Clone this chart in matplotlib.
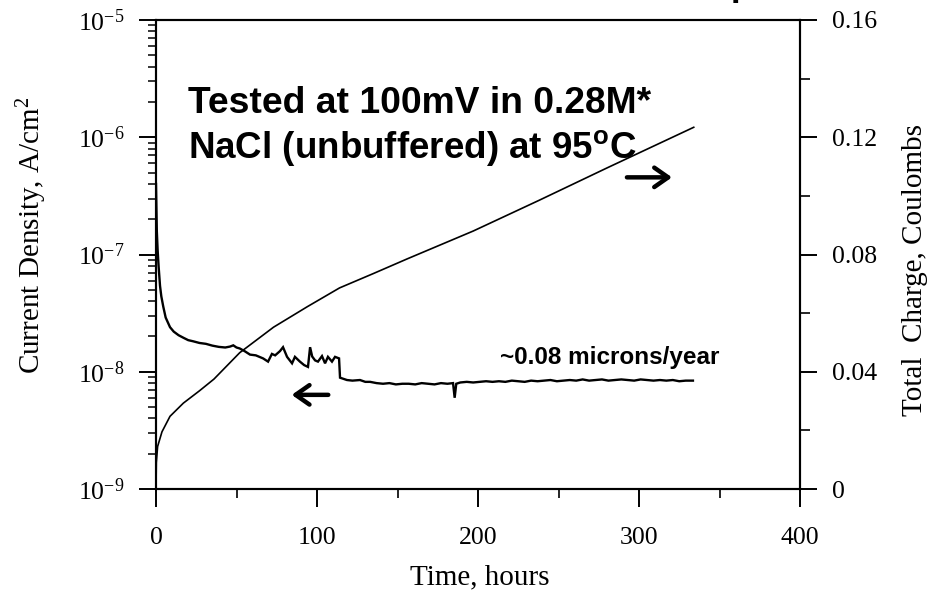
import matplotlib
matplotlib.use("Agg")
import matplotlib.pyplot as plt
from matplotlib.ticker import LogLocator, MultipleLocator, NullFormatter
import numpy as np

# Current density record (A/cm^2) against exposure time (hours)
time_current = [0, 0.5, 1.0, 1.6, 2.5, 3.3, 4.5, 6, 8.7, 11, 14, 17, 20, 23, 27, 31, 35,
                39, 43, 46, 48, 50, 52,
                55, 58.4, 62, 66.5, 69.6, 72, 74, 77, 78.9, 81.4, 84.5, 86.3, 89.4, 92,
                94.4, 95.7, 97, 98.8, 100.6, 103.1, 105, 106.8, 109.3, 111.2, 113.7, 114.3,
                118.6, 122, 126.7, 130, 133, 137, 141, 145, 149, 153, 157, 161, 165, 169,
                173, 177, 181, 184.5, 185.5, 186.5, 189, 193, 197, 201, 205, 209, 213, 217,
                221, 225, 229, 233, 237, 241, 245, 249, 253, 257, 261, 265, 269, 273, 277,
                281, 285, 289, 293, 297, 301, 305, 309, 313, 317, 321, 325, 329, 333.5]
current_density = [4.0e-7, 1.6e-7, 1.1e-7, 8.0e-8, 5.4e-8, 4.4e-8, 3.6e-8, 2.9e-8, 2.4e-8,
                   2.2e-8, 2.05e-8, 1.95e-8, 1.86e-8, 1.82e-8, 1.76e-8, 1.73e-8, 1.67e-8,
                   1.63e-8, 1.61e-8, 1.64e-8, 1.68e-8, 1.61e-8, 1.58e-8,
                   1.50e-8, 1.40e-8, 1.38e-8, 1.30e-8, 1.22e-8, 1.42e-8, 1.38e-8, 1.50e-8,
                   1.62e-8, 1.34e-8, 1.18e-8, 1.34e-8, 1.22e-8, 1.14e-8, 1.10e-8, 1.62e-8,
                   1.35e-8, 1.25e-8, 1.22e-8, 1.36e-8, 1.18e-8, 1.34e-8, 1.22e-8, 1.34e-8,
                   1.30e-8, 8.9e-9,
                   8.5e-9, 8.4e-9, 8.5e-9, 8.2e-9, 8.2e-9, 8.0e-9, 7.9e-9, 8.0e-9, 7.8e-9,
                   7.9e-9, 7.9e-9, 7.8e-9, 8.0e-9, 7.9e-9, 7.8e-9, 8.0e-9, 7.9e-9, 8.0e-9,
                   6.0e-9, 7.9e-9, 8.1e-9, 8.2e-9, 8.1e-9, 8.2e-9, 8.3e-9, 8.2e-9, 8.3e-9,
                   8.2e-9, 8.4e-9, 8.3e-9, 8.2e-9, 8.4e-9, 8.3e-9, 8.4e-9, 8.5e-9, 8.3e-9,
                   8.4e-9, 8.5e-9, 8.4e-9, 8.6e-9, 8.4e-9, 8.5e-9, 8.6e-9, 8.4e-9, 8.5e-9,
                   8.6e-9, 8.5e-9, 8.4e-9, 8.6e-9, 8.5e-9, 8.4e-9, 8.5e-9, 8.4e-9, 8.5e-9,
                   8.3e-9, 8.4e-9, 8.4e-9]

# Accumulated charge (C) against exposure time (hours)
time_charge = [0, 0.2, 1, 3.7, 8.7, 17, 27, 36, 52, 73, 94, 114, 135, 156, 197, 238, 280, 334]
total_charge = [0.0, 0.009, 0.0145, 0.0195, 0.0248, 0.0293, 0.0335, 0.0375, 0.0465, 0.0552,
                0.0622, 0.0686, 0.0735, 0.0785, 0.0880, 0.0985, 0.1095, 0.1234]

x_ticks = [0, 100, 200, 300, 400]
x_tick_labels = ["0", "100", "200", "300", "400"]
left_ticks = [1e-9, 1e-8, 1e-7, 1e-6, 1e-5]
left_tick_labels = [r"$\mathregular{10^{-9}}$", r"$\mathregular{10^{-8}}$",
                    r"$\mathregular{10^{-7}}$", r"$\mathregular{10^{-6}}$",
                    r"$\mathregular{10^{-5}}$"]
right_ticks = [0, 0.04, 0.08, 0.12, 0.16]
right_tick_labels = ["0", "0.04", "0.08", "0.12", "0.16"]

plt.rcParams["font.family"] = ["Liberation Serif", "DejaVu Serif"]

W, H = 932, 591
fig = plt.figure(figsize=(W / 100, H / 100), dpi=100)


def fx(x):
    return x / W


def fy(y):
    return 1 - y / H


ax = fig.add_axes([fx(156), fy(489), fx(800 - 156), (489 - 20) / H])
ax.set_yscale("log")
ax.set_xlim(0, 400)
ax.set_ylim(1e-9, 1e-5)
ax.plot(time_current, current_density, color="black", lw=1.7, solid_joinstyle="miter")

ax.set_xticks(x_ticks)
ax.set_xticklabels(x_tick_labels)
ax.xaxis.set_minor_locator(MultipleLocator(50))
ax.set_yticks(left_ticks)
ax.set_yticklabels(left_tick_labels)
ax.yaxis.set_minor_locator(LogLocator(base=10, subs=np.arange(2, 10)))
ax.yaxis.set_minor_formatter(NullFormatter())

ax.tick_params(axis="x", which="major", direction="out", length=13, width=1.4,
               labelsize=18.5, pad=14)
ax.tick_params(axis="x", which="minor", direction="out", length=6.5, width=1.2)
ax.tick_params(axis="y", which="major", direction="out", length=12, width=1.4,
               labelsize=18.5, pad=10.5)
ax.tick_params(axis="y", which="minor", direction="out", length=6, width=1.1)
for s in ax.spines.values():
    s.set_linewidth(1.5)

ax2 = ax.twinx()
ax2.set_ylim(0, 0.16)
ax2.plot(time_charge, total_charge, color="black", lw=1.2)
ax2.set_yticks(right_ticks)
ax2.set_yticklabels(right_tick_labels)
ax2.yaxis.set_minor_locator(MultipleLocator(0.02))
ax2.tick_params(axis="y", which="major", direction="out", length=12, width=1.4,
                labelsize=18.5, pad=11)
ax2.tick_params(axis="y", which="minor", direction="out", length=7, width=1.2)
for s in ax2.spines.values():
    s.set_linewidth(1.5)

# axis titles
fig.text(fx(480), fy(577), "Time, hours", ha="center", va="center", fontsize=21)
fig.text(fx(32), fy(235), "Current Density, A/cm$\\mathregular{^2}$", ha="center",
         va="center", rotation=90, fontsize=21)
fig.text(fx(915), fy(270), "Total  Charge, Coulombs", ha="center", va="center",
         rotation=90, fontsize=21)

# test-condition notes
bold_sans = dict(fontfamily=["Liberation Sans", "DejaVu Sans"], fontweight="bold")
fig.text(fx(188), fy(113), "Tested at 100mV in 0.28M*", ha="left", va="baseline",
         fontsize=26.8, **bold_sans)
fig.text(fx(188), fy(158), "NaCl (unbuffered) at 95$\\mathregular{^o}$C", ha="left",
         va="baseline", fontsize=26.5, **bold_sans)
fig.text(fx(500), fy(364), "~0.08 microns/year", ha="left", va="baseline",
         fontsize=17.5, **bold_sans)
# descender of the heading line that runs above the top edge
fig.text(fx(731), fy(-4), "p", ha="left", va="baseline", fontsize=25, **bold_sans)

# arrows pointing to the axis each curve belongs to
arrow_kw = dict(arrowstyle="->, head_length=1.0, head_width=0.7", lw=3.2,
                color="black", shrinkA=0, shrinkB=0)
ax.annotate("", xy=(320.5, 10 ** -6.342), xytext=(292.5, 10 ** -6.342),
            arrowprops=arrow_kw)
ax.annotate("", xy=(84.3, 10 ** -8.197), xytext=(107, 10 ** -8.197),
            arrowprops=arrow_kw)

fig.savefig("out.png", dpi=100)
